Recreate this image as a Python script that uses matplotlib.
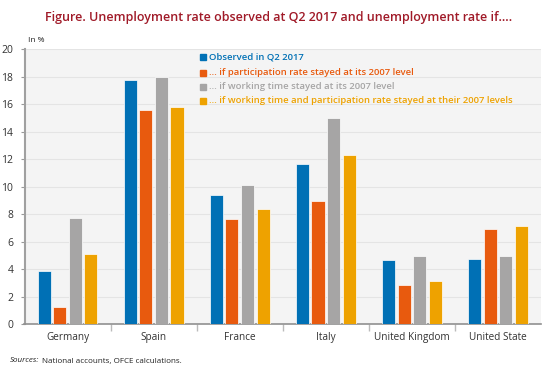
import matplotlib
matplotlib.use("Agg")
import matplotlib.pyplot as plt
from matplotlib.patches import Rectangle
import numpy as np

countries = ["Germany", "Spain", "France", "Italy", "United Kingdom", "United State"]
observed = [3.85, 17.75, 9.4, 11.65, 4.65, 4.75]
participation = [1.25, 15.55, 7.65, 8.95, 2.85, 6.9]
working_time = [7.75, 18.0, 10.1, 15.0, 4.95, 4.95]
both = [5.1, 15.8, 8.4, 12.3, 3.1, 7.15]

series_labels = [
    "Observed in Q2 2017",
    "\u2026 if participation rate stayed at its 2007 level",
    "\u2026 if working time stayed at its 2007 level",
    "\u2026 if working time and participation rate stayed at their 2007 levels",
]
colors = ["#0070b5", "#e85a0e", "#a6a5a5", "#eea200"]
yticks = [0, 2, 4, 6, 8, 10, 12, 14, 16, 18, 20]

plt.rcParams["font.family"] = ["Open Sans", "DejaVu Sans"]

W, H = 550, 369
fig = plt.figure(figsize=(5.5, 3.69), dpi=100)
ax = fig.add_axes([24.5 / W, 1 - 324 / H, (541 - 24.5) / W, (324 - 49.3) / H])
ax.set_facecolor("#f4f4f4")

x = np.arange(len(countries))
step = 0.181
width = 0.152
data = [observed, participation, working_time, both]
for i, (vals, col) in enumerate(zip(data, colors)):
    ax.bar(x + (i - 1.5) * step, vals, width=width, color=col,
           edgecolor="#ffffff", linewidth=0.5, zorder=3, label=series_labels[i])

ax.set_xlim(-0.5, len(countries) - 0.5)
ax.set_ylim(0, 20)
ax.set_yticks(yticks)
ax.set_yticklabels([str(t) for t in yticks], fontsize=7.5, color="#333333")
ax.yaxis.grid(True, color="#e4e4e4", linewidth=0.8, zorder=0)
ax.tick_params(axis="y", length=3, color="#999999", pad=5)

ax.set_xticks(x)
ax.set_xticklabels(countries, fontsize=7.2, color="#333333")
ax.tick_params(axis="x", length=0, pad=6)
ax.set_xticks(np.arange(len(countries) - 1) + 0.5, minor=True)
ax.tick_params(axis="x", which="minor", length=5, color="#bbbbbb", width=1)

for s in ["top", "right"]:
    ax.spines[s].set_visible(False)
ax.spines["left"].set_color("#a0a0a0")
ax.spines["left"].set_linewidth(1.5)
ax.spines["bottom"].set_color("#909090")
ax.spines["bottom"].set_linewidth(1.2)

# Legend (manual, colored text)
leg_y = [57.3, 72.7, 86.5, 100.5]
for lab, col, yy in zip(series_labels, colors, leg_y):
    fig.patches.append(Rectangle((200 / W, 1 - (yy + 3) / H), 5.5 / W, 6 / H,
                                 transform=fig.transFigure, color=col, figure=fig))
    fig.text(209 / W, 1 - yy / H, lab, color=col, fontsize=6.8,
             fontweight="semibold", va="center", ha="left")

fig.text(279 / W, 1 - 17 / H,
         "Figure. Unemployment rate observed at Q2 2017 and unemployment rate if\u2026.",
         color="#a01a28", fontsize=9.0, fontweight="semibold", ha="center", va="center")
fig.text(28 / W, 1 - 41 / H, "In %", fontsize=6, color="#222222", va="center")
t1 = fig.text(10 / W, 1 - 361 / H, "Sources:", fontsize=5.8, style="italic",
              color="#222222", va="center")
fig.canvas.draw()
bb = t1.get_window_extent()
fig.text((bb.x1 + 3) / W, 1 - 361 / H, "National accounts, OFCE calculations.",
         fontsize=5.8, color="#222222", va="center")

fig.savefig("out.png", dpi=100)
